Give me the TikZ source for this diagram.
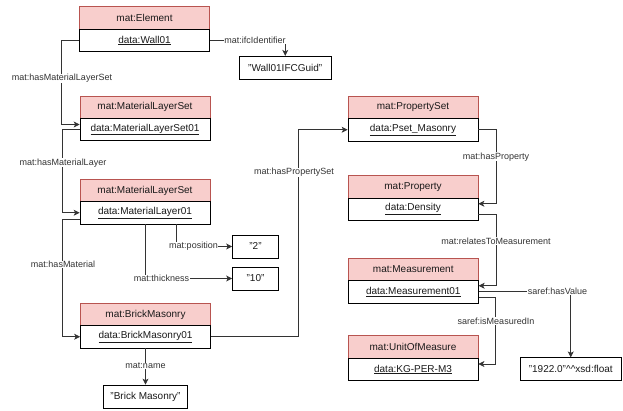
\documentclass[tikz,border=0pt]{standalone}
\usepackage{fontspec}
\setmainfont{Liberation Sans}
\usetikzlibrary{arrows.meta}
\definecolor{hdrfill}{HTML}{F8CECC}
\definecolor{hdrdraw}{HTML}{B85450}
\definecolor{edgecol}{HTML}{333333}
\definecolor{txtcol}{HTML}{1A1A1A}
\tikzset{
  hdr/.style={draw=hdrdraw, fill=hdrfill, minimum width=130pt, minimum height=22.5pt, inner sep=0pt, font=\fontsize{10}{12}\selectfont, text=txtcol, line width=0.7pt},
  dat/.style={draw=black, fill=white, minimum width=130pt, minimum height=22.5pt, inner sep=0pt, font=\fontsize{10}{12}\selectfont, text=txtcol, line width=0.7pt},
  lit/.style={draw=black, fill=white, minimum height=23pt, inner sep=0pt, font=\fontsize{10}{12}\selectfont, text=txtcol, line width=0.7pt},
  conn/.style={draw=edgecol, line width=0.7pt, -{Stealth[length=6pt,width=6pt,inset=1.5pt]}},
  elab/.style={fill=white, inner sep=0.5pt, font=\fontsize{9}{11}\selectfont, text=edgecol}
}
\newcommand{\ul}[1]{\underline{#1}}
\begin{document}
\begin{tikzpicture}[x=1pt,y=-1pt]
\useasboundingbox (0,0) rectangle (623,410);
% class boxes
\node[hdr] (hElem) at (144.5,18) {mat:Element};
\node[dat] (dElem) at (144.5,40.5) {\ul{data:Wall01}};
\node[hdr] (hMLS) at (145,107.25) {mat:MaterialLayerSet};
\node[dat] (dMLS) at (145,129.5) {\ul{data:MaterialLayerSet01}};
\node[hdr] (hML) at (145,190.5) {mat:MaterialLayerSet};
\node[dat] (dML) at (145,212.75) {\ul{data:MaterialLayer01}};
\node[hdr] (hBrick) at (145.5,314.5) {mat:BrickMasonry};
\node[dat] (dBrick) at (145.5,336.75) {\ul{data:BrickMasonry01}};
\node[hdr] (hPset) at (413,107.25) {mat:PropertySet};
\node[dat] (dPset) at (413,129.75) {\ul{data:Pset\_Masonry}};
\node[hdr] (hProp) at (413,187) {mat:Property};
\node[dat] (dProp) at (413,209.25) {\ul{data:Density}};
\node[hdr] (hMeas) at (413.25,269.25) {mat:Measurement};
\node[dat] (dMeas) at (413.25,291.75) {\ul{data:Measurement01}};
\node[hdr] (hUnit) at (413,347) {mat:UnitOfMeasure};
\node[dat] (dUnit) at (413,369.5) {\ul{data:KG-PER-M3}};
% literals
\node[lit, minimum width=91.5pt] (lGuid) at (285.25,67.75) {"Wall01IFCGuid"};
\node[lit, minimum width=46pt] (l2) at (255.5,246.5) {"2"};
\node[lit, minimum width=46pt] (l10) at (255.5,278.5) {"10"};
\node[lit, minimum width=84pt] (lBrick) at (145.5,396.5) {"Brick Masonry"};
\node[lit, minimum width=100.5pt] (l1922) at (570.75,369.25) {"1922.0"\textasciicircum\textasciicircum xsd:float};
% connectors
\draw[conn] (dElem.west) -- ++(-17.5,0) |- ([yshift=5pt]dMLS.west);
\draw[conn] (dMLS.west) -- ++(-17.5,0) |- (dML.west);
\draw[conn] ([yshift=-6.25pt]dML.west) -- ++(-17.5,0) |- (dBrick.west);
\draw[conn] ([xshift=31.5pt]dML.south) |- (l2.west);
\draw[conn] (dML.south) |- (l10.west);
\draw[conn] (dBrick.east) -- ++(87,0) |- (dPset.west);
\draw[conn] (dPset.east) -- ++(17.5,0) |- ([yshift=5.5pt]dProp.east);
\draw[conn] ([yshift=-5.5pt]dProp.east) -- ++(17.5,0) |- ([yshift=6pt]dMeas.east);
\draw[conn] ([yshift=-5.5pt]dMeas.east) -- ++(17,0) |- ([yshift=5.5pt]dUnit.east);
\draw[conn] ([yshift=0.75pt]dMeas.east) -| (l1922.north);
\draw[conn] (dElem.east) -| (lGuid.north);
\draw[conn] (dBrick.south) -- (dBrick.south |- lBrick.north);
% edge labels
\node[elab] (eLMS) at (62,78.5) {mat:hasMaterialLayerSet};
\node[elab] (eLML) at (63,162.7) {mat:hasMaterialLayer};
\node[elab] (eLMat) at (63,264.5) {mat:hasMaterial};
\node[elab] (ePos) at (193.5,246.5) {mat:position};
\node[elab] (eThk) at (161.5,278.5) {mat:thickness};
\node[elab] (ePS) at (294,172.3) {mat:hasPropertySet};
\node[elab] (eHP) at (496,156.7) {mat:hasProperty};
\node[elab] (eRTM) at (496,241) {mat:relatesToMeasurement};
\node[elab] (eIMI) at (496,321) {saref:isMeasuredIn};
\node[elab] (eHV) at (557.5,291) {saref:hasValue};
\node[elab] (eIfc) at (255,40.5) {mat:ifcIdentifier};
\node[elab] (eName) at (145.5,366) {mat:name};
\end{tikzpicture}
\end{document}
